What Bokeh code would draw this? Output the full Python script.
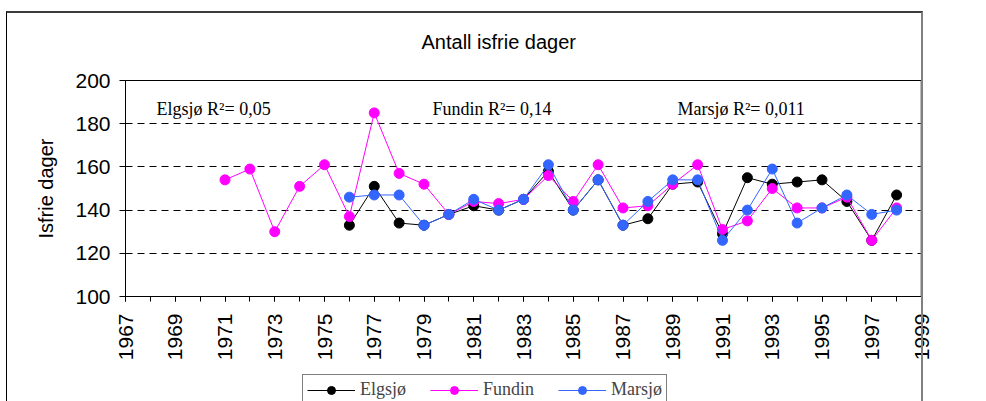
from bokeh.plotting import figure
from bokeh.layouts import column
from bokeh.models import (Range1d, FixedTicker, Legend, LegendItem, Label,
                          Span, InlineStyleSheet)
from bokeh.embed import file_html
from bokeh.resources import INLINE

# ---- data ----
elgsjo_years = list(range(1976, 1999))
elgsjo = [133, 151, 134, 133, 138, 142, 140, 145, 158, 140, 154, 133,
          136, 152, 153, 129, 155, 152, 153, 154, 144, 126, 147]

fundin_years = list(range(1971, 1999))
fundin = [154, 159, 130, 151, 161, 137, 185, 157, 152, 138, 144, 143,
          145, 156, 144, 161, 141, 142, 152, 161, 131, 135, 150, 141,
          141, 146, 126, 141]

marsjo_years = list(range(1976, 1999))
marsjo = [146, 147, 147, 133, 138, 145, 140, 145, 161, 140, 154, 133,
          144, 154, 154, 126, 140, 159, 134, 141, 147, 138, 140]

series_names = ["Elgsjø", "Fundin", "Marsjø"]
r2_texts = ["Elgsjø R²= 0,05", "Fundin R²= 0,14", "Marsjø R²= 0,011"]
title_text = "Antall isfrie dager"
y_label = "Isfrie dager"
x_label_ticks = list(range(1967, 2000, 2))
x_minor_ticks = list(range(1967, 2000))
y_ticks = [100, 120, 140, 160, 180, 200]

colors = ["black", "#FF00FF", "#3366FF"]
all_years = [elgsjo_years, fundin_years, marsjo_years]
all_vals = [elgsjo, fundin, marsjo]

border_css = InlineStyleSheet(css="""
:host { position: relative; }
:host::after {
  content: "";
  position: absolute;
  left: 6px; top: 11px; width: 917px; height: 390px;
  border-top: 2px solid #3c3c3c;
  border-left: 1px solid #000000;
  border-right: 2px solid #808080;
  box-sizing: border-box;
  pointer-events: none;
}
""")

# ---------------- main chart ----------------
p = figure(width=970, height=366, output_backend="svg", toolbar_location=None,
           x_range=Range1d(1967, 1999), y_range=Range1d(100, 200),
           min_border_left=125, min_border_right=49,
           min_border_top=79, min_border_bottom=70)
p.background_fill_color = "white"
p.border_fill_color = None
p.outline_line_color = "black"
p.outline_line_width = 1

p.title.text = title_text
p.title.text_font = "Liberation Sans"
p.title.text_font_size = "20px"
p.title.text_font_style = "normal"
p.title.text_color = "black"
p.title.align = "left"
p.title.offset = 296
p.title.standoff = 56

p.xaxis.ticker = FixedTicker(ticks=x_label_ticks, minor_ticks=x_minor_ticks)
p.yaxis.ticker = FixedTicker(ticks=y_ticks)
for ax in (p.xaxis, p.yaxis):
    ax.axis_line_color = "black"
    ax.major_tick_line_color = "black"
    ax.minor_tick_line_color = "black"
    ax.major_tick_in = 0
    ax.minor_tick_in = 0
    ax.major_label_text_font = "Liberation Sans"
    ax.major_label_text_font_size = "21px"
    ax.major_label_text_color = "black"
p.xaxis.major_tick_out = 5
p.xaxis.minor_tick_out = 5
p.xaxis.major_label_orientation = 3.14159265 / 2
p.xaxis.major_label_standoff = 12
p.yaxis.major_tick_out = 6
p.yaxis.minor_tick_line_color = None
p.yaxis.major_label_standoff = 9
p.yaxis.axis_label = y_label
p.yaxis.axis_label_text_font = "Liberation Sans"
p.yaxis.axis_label_text_font_size = "20px"
p.yaxis.axis_label_text_font_style = "normal"
p.yaxis.axis_label_text_color = "black"
p.yaxis.axis_label_standoff = 15

p.xgrid.grid_line_color = None
p.ygrid.grid_line_color = "black"
p.ygrid.grid_line_dash = "7 5"
p.ygrid.grid_line_width = 1

p.add_layout(Span(location=1999, dimension="height", line_color="#808080",
                  line_width=2))

for xs, ys, c in zip(all_years, all_vals, colors):
    p.line(xs, ys, line_color=c, line_width=1)
    p.scatter(xs, ys, size=10, fill_color=c, line_color=c)

for txt, xpos in zip(r2_texts, [1968.25, 1979.34, 1989.19]):
    p.add_layout(Label(x=xpos, y=187.0, text=txt, text_font="Liberation Serif",
                       text_font_size="18px", text_baseline="alphabetic",
                       text_align="left", text_color="black"))

# ---------------- legend strip (same series, ranges keep marks out of view) ----------------
q = figure(width=970, height=35, output_backend="svg", toolbar_location=None,
           x_range=Range1d(0, 1), y_range=Range1d(0, 1),
           min_border_left=0, min_border_right=0, min_border_top=0,
           min_border_bottom=0, x_axis_location=None, y_axis_location=None,
           title_location=None)
q.outline_line_color = None
q.grid.visible = False
q.background_fill_color = None
q.border_fill_color = None

items = []
for name, xs, ys, c in zip(series_names, all_years, all_vals, colors):
    ln = q.line(xs, ys, line_color=c, line_width=1)
    sc = q.scatter(xs, ys, size=10, fill_color=c, line_color=c)
    items.append(LegendItem(label=name, renderers=[ln, sc]))

legend = Legend(items=items, orientation="horizontal", location=(177, -4),
                border_line_color="black", border_line_width=1,
                background_fill_color="white", background_fill_alpha=1,
                label_text_font="Liberation Serif", label_text_font_size="18px",
                glyph_width=48, glyph_height=20, label_standoff=5, spacing=24,
                padding=4, margin=0)
q.add_layout(legend, "center")

layout = column(p, q, spacing=0)
layout.stylesheets = [border_css]

open("out.html", "w").write(file_html(layout, INLINE))
